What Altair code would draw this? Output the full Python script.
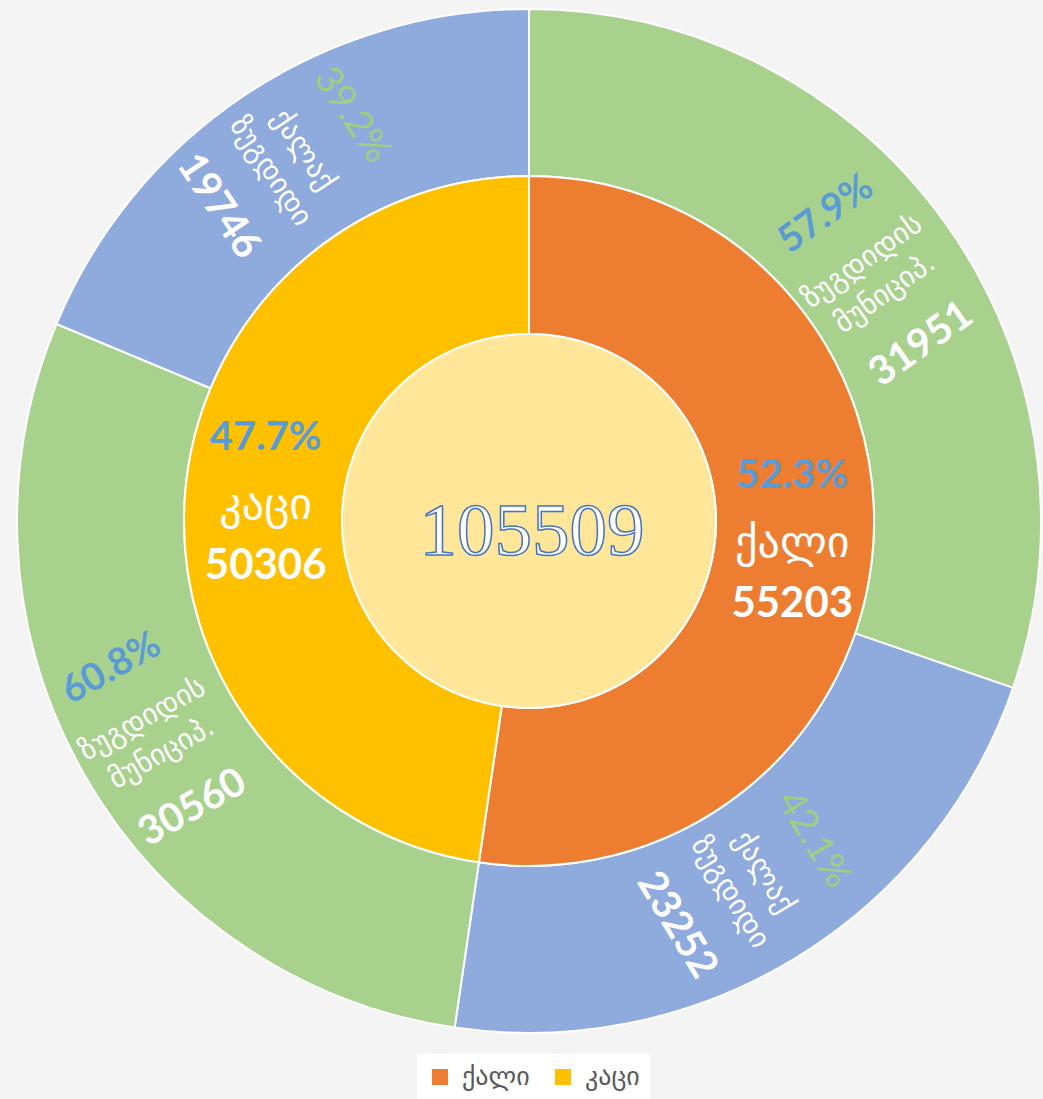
import altair as alt
import pandas as pd

# ---- data ----
gender = ["ქალი", "კაცი"]
gender_values = [55203, 50306]
gender_pct = ["52.3%", "47.7%"]

area_gender = ["ქალი", "ქალი", "კაცი", "კაცი"]
area_names = ["ზუგდიდის მუნიციპ.", "ქალაქ ზუგდიდი", "ზუგდიდის მუნიციპ.", "ქალაქ ზუგდიდი"]
area_values = [31951, 23252, 30560, 19746]
area_pct = ["57.9%", "42.1%", "60.8%", "39.2%"]

area_domain = ["ზუგდიდის მუნიციპ.", "ქალაქ ზუგდიდი"]

inner_df = pd.DataFrame({"gender": gender, "value": gender_values,
                         "pct": gender_pct, "order": list(range(len(gender)))})
outer_df = pd.DataFrame({"gender": area_gender, "area": area_names, "value": area_values,
                         "pct": area_pct, "order": list(range(len(area_names)))})
TOTAL = sum(gender_values)
center_df = pd.DataFrame({"total": [TOTAL]})

CX, CY = 529, 521
R_OUT, R_MID, R_IN = 512, 345, 187

ORANGE, YELLOW = "#ED7D31", "#FFC000"
GREEN, BLUE = "#A9D18E", "#8FAADC"
PCT_BLUE = "#5B9BD5"
PCT_GREEN = "#9FCE84"

theta_scale = alt.Scale(domain=[0, TOTAL], nice=False, zero=True)


def ring(df):
    return (
        alt.Chart(df)
        .transform_window(cum="sum(value)", sort=[alt.SortField("order")], frame=[None, 0])
        .transform_joinaggregate(total="sum(value)")
        .transform_calculate(start="datum.cum - datum.value",
                             mid="datum.cum - datum.value / 2")
        .transform_calculate(deg="datum.mid / datum.total * 360")
        .transform_calculate(rot="(datum.deg < 180 ? datum.deg + 270 : datum.deg + 90) % 360")
    )


pos = dict(x=alt.value(CX), y=alt.value(CY))

outer_arc = ring(outer_df).mark_arc(
    innerRadius=R_MID, outerRadius=R_OUT, stroke="white", strokeWidth=2
).encode(
    theta=alt.Theta("start:Q", scale=theta_scale),
    theta2="cum:Q",
    color=alt.Color("area:N", scale=alt.Scale(domain=area_domain, range=[GREEN, BLUE]), legend=None),
    **pos,
)

inner_arc = ring(inner_df).mark_arc(
    innerRadius=R_IN, outerRadius=R_MID, stroke="white", strokeWidth=2
).encode(
    theta=alt.Theta("start:Q", scale=theta_scale),
    theta2="cum:Q",
    color=alt.Color(
        "gender:N",
        scale=alt.Scale(domain=gender, range=[ORANGE, YELLOW]),
        legend=alt.Legend(
            title=None, orient="none", legendX=417, legendY=1054, direction="horizontal",
            symbolType="square", symbolSize=256, symbolStrokeWidth=0,
            labelFont="DejaVu Sans", labelFontSize=26, labelColor="#595959",
            columnPadding=20, labelOffset=9, fillColor="white", padding=10,
        ),
    ),
    **pos,
)

center_circle = alt.Chart(center_df).mark_arc(
    outerRadius=R_IN, theta=0, theta2=6.2832, fill="#FFE699", stroke="white", strokeWidth=2
).encode(**pos)

center_text = alt.Chart(center_df).mark_text(
    font="Liberation Serif", fontSize=75, fill="white", stroke="#4472C4", strokeWidth=1.5,
    baseline="middle", align="center",
).encode(text=alt.Text("total:Q", format="d"), x=alt.value(532), y=alt.value(532))

R_OTXT = 428
outer_base = ring(outer_df).transform_calculate(
    l1="split(datum.area, ' ')[0]", l2="split(datum.area, ' ')[1]"
)
oenc = dict(theta=alt.Theta("mid:Q", scale=theta_scale), angle=alt.Angle("rot:Q", scale=None), **pos)

outer_pct_mun = outer_base.transform_filter(alt.datum.area == area_domain[0]).mark_text(
    radius=R_OTXT, dy=-77, dx=-8, font="Lato", fontSize=38, fontWeight="bold", color=PCT_BLUE,
    baseline="middle", align="center",
).encode(text="pct:N", **oenc)

outer_pct_city = outer_base.transform_filter(alt.datum.area == area_domain[1]).mark_text(
    radius=R_OTXT, dy=-77, dx=-8, font="Lato", fontSize=38, color=PCT_GREEN,
    baseline="middle", align="center",
).encode(text="pct:N", **oenc)

outer_l1 = outer_base.mark_text(
    radius=R_OTXT, dy=-18, dx=-6, font="DejaVu Sans", fontSize=29, color="white",
    baseline="middle", align="center",
).encode(text="l1:N", **oenc)

outer_l2 = outer_base.mark_text(
    radius=R_OTXT, dy=21, dx=-6, font="DejaVu Sans", fontSize=29, color="white",
    baseline="middle", align="center",
).encode(text="l2:N", **oenc)

outer_val = outer_base.mark_text(
    radius=R_OTXT, dy=84, dx=-6, font="Lato", fontSize=40, fontWeight="bold", color="white",
    baseline="middle", align="center",
).encode(text=alt.Text("value:Q", format="d"), **oenc)

R_ITXT = 264
inner_base = ring(inner_df)
ienc = dict(theta=alt.Theta("mid:Q", scale=theta_scale), **pos)

inner_pct = inner_base.mark_text(
    radius=R_ITXT, dy=-64, font="Lato", fontSize=40, fontWeight="bold", color=PCT_BLUE,
    baseline="middle", align="center",
).encode(text="pct:N", **ienc)

inner_name = inner_base.mark_text(
    radius=R_ITXT, dy=4, font="DejaVu Sans", fontSize=44, color="white",
    baseline="middle", align="center",
).encode(text="gender:N", **ienc)

inner_val = inner_base.mark_text(
    radius=R_ITXT, dy=64, font="Lato", fontSize=42, fontWeight="bold", color="white",
    baseline="middle", align="center",
).encode(text=alt.Text("value:Q", format="d"), **ienc)

chart = alt.layer(
    outer_arc, inner_arc, center_circle, center_text,
    outer_pct_mun, outer_pct_city, outer_l1, outer_l2, outer_val,
    inner_pct, inner_name, inner_val,
).resolve_scale(color="independent").properties(
    width=1043, height=1099, padding=0, autosize=alt.AutoSizeParams(type="none"),
    background="#f4f4f4",
).configure_view(strokeWidth=0)

chart.save("out.html", embed_options={"renderer": "svg", "actions": False})
